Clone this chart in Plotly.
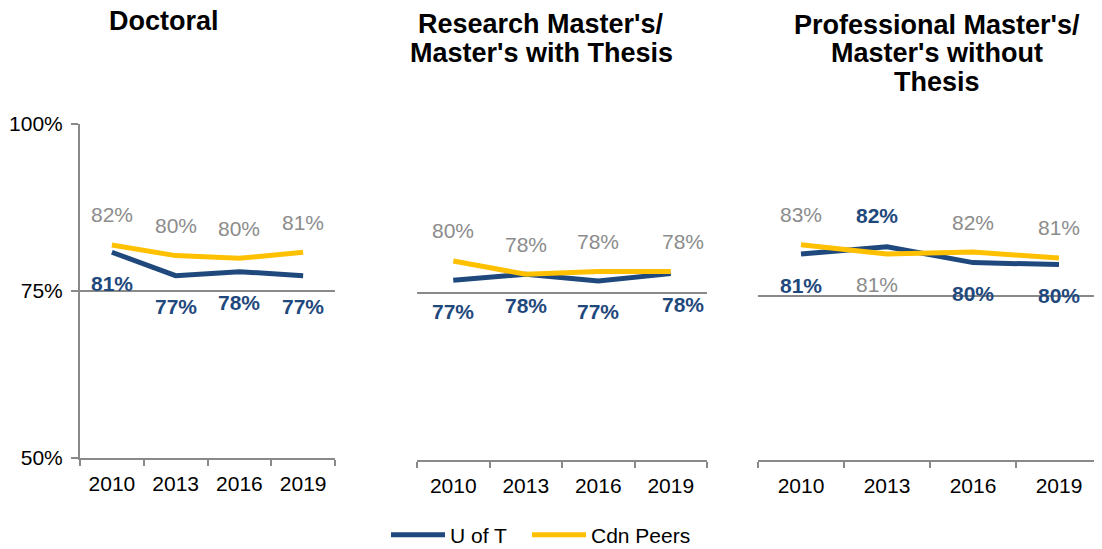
import plotly.graph_objects as go

# page body has an 8px margin; figure is sized to fit the 1102x549 window
OFF = 8
W, H = 1102 - OFF, 549 - OFF

years = ["2010", "2013", "2016", "2019"]
series_names = ["U of T", "Cdn Peers"]
panel_titles = [
    ["Doctoral"],
    ["Research Master's/", "Master's with Thesis"],
    ["Professional Master's/", "Master's without", "Thesis"],
]
uoft = [
    [80.8, 77.3, 77.9, 77.3],
    [76.9, 77.8, 76.8, 77.9],
    [81.3, 82.4, 80.0, 79.7],
]
peers = [
    [81.9, 80.3, 79.9, 80.8],
    [79.8, 77.8, 78.2, 78.2],
    [82.7, 81.3, 81.6, 80.7],
]
uoft_labels = [
    ["81%", "77%", "78%", "77%"],
    ["77%", "78%", "77%", "78%"],
    ["81%", "82%", "80%", "80%"],
]
peer_labels = [
    ["82%", "80%", "80%", "81%"],
    ["80%", "78%", "78%", "78%"],
    ["83%", "81%", "82%", "81%"],
]
y_ticks = [50, 75, 100]
y_ticktext = ["50%", "75%", "100%"]

# style / layout (screen pixels)
BLUE = "#1F497D"
GOLD = "#FFC000"
GREY_TXT = "#8C8C8C"
GRID = "#898989"
FONT = "Liberation Sans, Arial, sans-serif"

x_px = [(80, 335), (417, 707), (758, 1104)]
y_px = [(124, 458), (126, 460), (131, 460)]   # (top, bottom)
title_cx = [164, 541, 937]
title_cy = [[21], [24, 52.5], [25, 53.5, 82]]
legend_x = [386, 527]
legend_y = 535

# label placement: +1 above, -1 below
uoft_pos = [[-1] * 4, [-1] * 4, [-1, 1, -1, -1]]
peer_pos = [[1] * 4, [1] * 4, [1, -1, 1, 1]]
label_xshift = {(1, 3): 12, (2, 1): -10}


def px_x(p):
    return (p - OFF) / W


def px_y(p):
    return 1 - (p - OFF) / H


fig = go.Figure()
annotations = []

for i in range(3):
    xa = "x" if i == 0 else f"x{i+1}"
    ya = "y" if i == 0 else f"y{i+1}"
    fig.add_trace(go.Scatter(
        x=years, y=uoft[i], mode="lines", name=series_names[0],
        line=dict(color=BLUE, width=5), xaxis=xa, yaxis=ya,
        showlegend=(i == 0), legend="legend", hoverinfo="skip"))
    fig.add_trace(go.Scatter(
        x=years, y=peers[i], mode="lines", name=series_names[1],
        line=dict(color=GOLD, width=5), xaxis=xa, yaxis=ya,
        showlegend=(i == 0), legend="legend2", hoverinfo="skip"))

    for j, yr in enumerate(years):
        xs = label_xshift.get((i, j), 0)
        # category axis: annotation x is the category index
        annotations.append(dict(
            x=j, y=uoft[i][j], xref=xa, yref=ya, text=f"<b>{uoft_labels[i][j]}</b>",
            showarrow=False, yshift=31 * uoft_pos[i][j], xshift=xs,
            font=dict(family=FONT, size=21, color=BLUE)))
        annotations.append(dict(
            x=j, y=peers[i][j], xref=xa, yref=ya, text=peer_labels[i][j],
            showarrow=False, yshift=30 * peer_pos[i][j], xshift=xs,
            font=dict(family=FONT, size=21, color=GREY_TXT)))

    for k, line in enumerate(panel_titles[i]):
        annotations.append(dict(
            x=px_x(title_cx[i]), y=px_y(title_cy[i][k]), xref="paper", yref="paper",
            text=f"<b>{line}</b>", showarrow=False, xanchor="center", yanchor="middle",
            font=dict(family=FONT, size=27, color="#000000")))

    x0, x1 = x_px[i]
    t, b = y_px[i]
    xkey = "xaxis" if i == 0 else f"xaxis{i+1}"
    ykey = "yaxis" if i == 0 else f"yaxis{i+1}"
    fig.update_layout({
        xkey: dict(
            domain=[px_x(x0), min(px_x(x1), 1.0)], anchor=ya, type="category",
            categoryorder="array", categoryarray=years, range=[-0.5, 3.5],
            showline=True, linecolor=GRID, linewidth=2,
            ticks="outside", tickson="boundaries", ticklen=6, tickwidth=2, tickcolor=GRID,
            showgrid=False, zeroline=False, ticklabelstandoff=6, automargin=False,
            tickfont=dict(family=FONT, size=21, color="#000000"), fixedrange=True),
        ykey: dict(
            domain=[px_y(b), px_y(t)], anchor=xa, range=[50, 100],
            tickvals=y_ticks, ticktext=y_ticktext,
            showticklabels=(i == 0), showline=(i == 0), linecolor=GRID, linewidth=2,
            ticks="outside" if i == 0 else "", ticklen=7, tickwidth=2, tickcolor=GRID,
            showgrid=True, gridcolor=GRID, gridwidth=2, zeroline=False,
            ticklabelstandoff=4, automargin=False,
            tickfont=dict(family=FONT, size=21, color="#000000"), fixedrange=True),
    })

legend_common = dict(orientation="h", xanchor="left", y=px_y(legend_y), yanchor="middle",
                     font=dict(family=FONT, size=21, color="#000000"), itemwidth=54,
                     bgcolor="rgba(0,0,0,0)")

fig.update_layout(
    width=W, height=H,
    margin=dict(l=0, r=0, t=0, b=0, autoexpand=False),
    paper_bgcolor="white", plot_bgcolor="white",
    annotations=annotations,
    showlegend=True,
    legend=dict(x=px_x(legend_x[0]), **legend_common),
    legend2=dict(x=px_x(legend_x[1]), **legend_common),
    font=dict(family=FONT),
)

fig.write_html("out.html")
